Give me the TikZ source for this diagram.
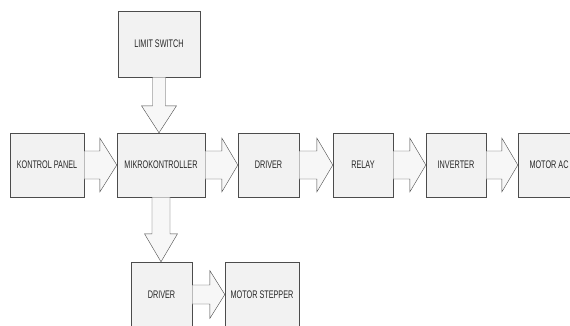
\documentclass[tikz,border=0pt]{standalone}
\usepackage{fontspec}
\setmainfont[FakeStretch=0.66]{Liberation Sans}
\usepackage{tikz}
\usetikzlibrary{calc}
\tikzset{
  blok/.style={draw=black!70, thin, fill=black!5, inner sep=0pt, font=\fontsize{11}{12}\selectfont, text=black!85},
  blk/.style={draw=black!70, thin, fill=black!3, line join=miter},
}
% horizontal block arrow: from, to, half shaft, half head, head length
\newcommand{\hblk}[5]{%
  \draw[blk] let \p1=(#1.east), \p2=(#2.west) in
    (\x1,\y1+#3) -- (\x2-#5,\y1+#3) -- (\x2-#5,\y1+#4) -- (\x2,\y1)
    -- (\x2-#5,\y1-#4) -- (\x2-#5,\y1-#3) -- (\x1,\y1-#3) -- cycle;}
% vertical block arrow (downwards): from, to, half shaft, half head, head length
\newcommand{\vblk}[5]{%
  \draw[blk] let \p1=(#1.south), \p2=(#2.north) in
    (\x1-#3,\y1) -- (\x1-#3,\y2+#5) -- (\x1-#4,\y2+#5) -- (\x1,\y2)
    -- (\x1+#4,\y2+#5) -- (\x1+#3,\y2+#5) -- (\x1+#3,\y1) -- cycle;}

\begin{document}
\begin{tikzpicture}[x=1pt,y=-1pt]
\path[use as bounding box, clip] (0,0) rectangle (570,325);
\fill[white] (0,0) rectangle (570,325);
\node[blok, minimum width=82pt, minimum height=66pt] (lsw) at (159,44) {LIMIT SWITCH};
\node[blok, minimum width=74pt, minimum height=64pt] (kp) at (47,165) {KONTROL PANEL};
\node[blok, minimum width=88pt, minimum height=64pt] (mk) at (161,165) {MIKROKONTROLLER};
\node[blok, minimum width=61pt, minimum height=64pt] (drv) at (268.5,165) {DRIVER};
\node[blok, minimum width=60pt, minimum height=64pt] (rly) at (363,165) {RELAY};
\node[blok, minimum width=60pt, minimum height=64pt] (inv) at (456,165) {INVERTER};
\node[blok, minimum width=62pt, minimum height=64pt] (mac) at (549,165) {MOTOR AC};
\node[blok, minimum width=61pt, minimum height=65pt] (ldrv) at (161.5,294.5) {DRIVER};
\node[blok, minimum width=74pt, minimum height=65pt] (stp) at (262,294.5) {MOTOR STEPPER};
% arrows
\vblk{lsw}{mk}{6.5}{17.5}{27}
\hblk{kp}{mk}{14}{27}{17}
\hblk{mk}{drv}{14}{27}{16}
\hblk{drv}{rly}{14}{27}{16}
\hblk{rly}{inv}{14}{27}{16}
\hblk{inv}{mac}{14}{27}{16}
\vblk{mk}{ldrv}{9}{16.5}{28}
\hblk{ldrv}{stp}{9.5}{24}{15}
\end{tikzpicture}
\end{document}
